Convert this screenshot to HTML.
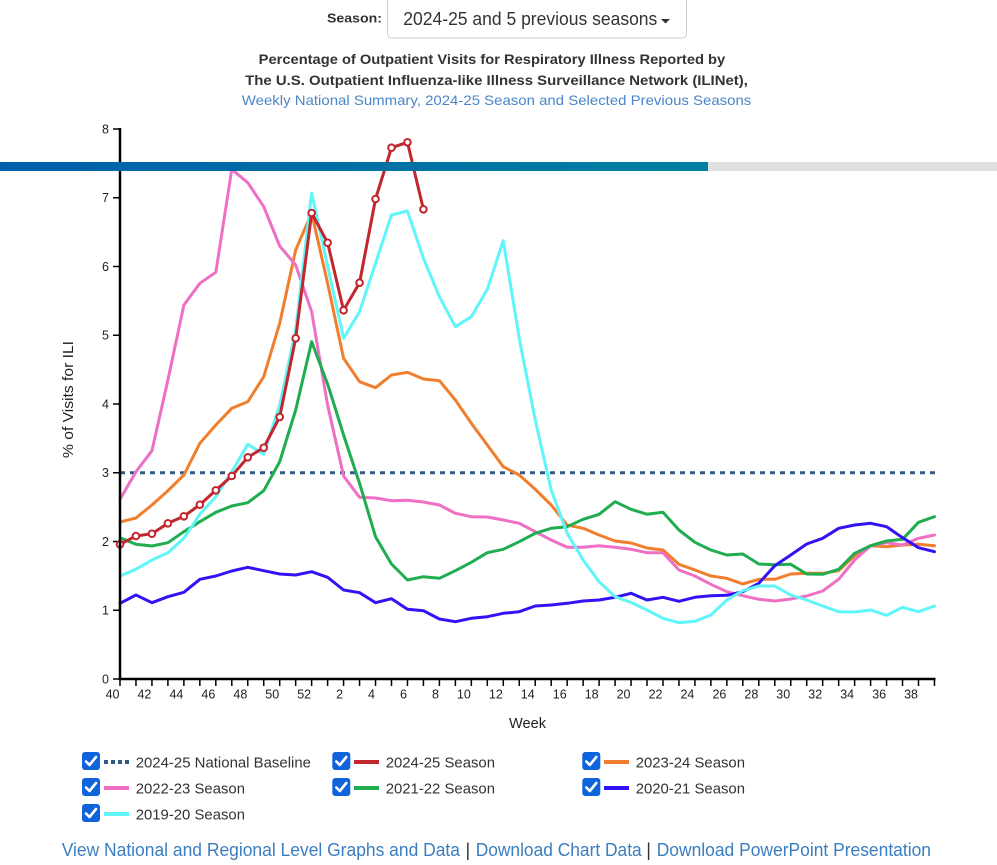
<!DOCTYPE html>
<html>
<head>
<meta charset="utf-8">
<style>
html,body{margin:0;padding:0;background:#fff;}
svg{display:block;font-family:"Liberation Sans",Arial,sans-serif;}
</style>
</head>
<body>
<svg width="997" height="865" viewBox="0 0 997 865" xmlns="http://www.w3.org/2000/svg">
<defs>
<linearGradient id="bar" x1="0" y1="0" x2="1" y2="0">
<stop offset="0" stop-color="#005fab"/>
<stop offset="1" stop-color="#0080a0"/>
</linearGradient>
</defs>

<!-- Header -->
<text x="327" y="22.5" font-size="13" font-weight="bold" fill="#333" textLength="55" lengthAdjust="spacingAndGlyphs">Season:</text>
<rect x="387.5" y="-5" width="299" height="43" rx="4" ry="4" fill="#fff" stroke="#cccccc" stroke-width="1"/>
<text x="403.3" y="25" font-size="18" fill="#333" textLength="254" lengthAdjust="spacingAndGlyphs">2024-25 and 5 previous seasons</text>
<polygon points="661,19 670,19 665.5,23.5" fill="#333"/>

<text x="258.7" y="64" font-size="14" font-weight="bold" fill="#333" textLength="466.5" lengthAdjust="spacingAndGlyphs">Percentage of Outpatient Visits for Respiratory Illness Reported by</text>
<text x="245.2" y="85" font-size="14" font-weight="bold" fill="#333" textLength="502.7" lengthAdjust="spacingAndGlyphs">The U.S. Outpatient Influenza-like Illness Surveillance Network (ILINet),</text>
<text x="241.8" y="105" font-size="14" fill="#4a86c8" textLength="509.5" lengthAdjust="spacingAndGlyphs">Weekly National Summary, 2024-25 Season and Selected Previous Seasons</text>

<!-- Y axis title -->
<text transform="translate(73,399.5) rotate(-90)" text-anchor="middle" font-size="14.5" fill="#222" textLength="117" lengthAdjust="spacingAndGlyphs">% of Visits for ILI</text>

<!-- Y ticks and labels -->
<g stroke="#000" stroke-width="1.5">
<line x1="113" y1="679" x2="120" y2="679"/>
<line x1="113" y1="610.25" x2="120" y2="610.25"/>
<line x1="113" y1="541.5" x2="120" y2="541.5"/>
<line x1="113" y1="472.75" x2="120" y2="472.75"/>
<line x1="113" y1="404" x2="120" y2="404"/>
<line x1="113" y1="335.25" x2="120" y2="335.25"/>
<line x1="113" y1="266.5" x2="120" y2="266.5"/>
<line x1="113" y1="197.75" x2="120" y2="197.75"/>
<line x1="113" y1="129" x2="120" y2="129"/>
</g>
<g font-size="12.5" fill="#222" text-anchor="end">
<text x="109" y="683.5">0</text>
<text x="109" y="614.7">1</text>
<text x="109" y="546">2</text>
<text x="109" y="477.2">3</text>
<text x="109" y="408.5">4</text>
<text x="109" y="339.7">5</text>
<text x="109" y="271">6</text>
<text x="109" y="202.2">7</text>
<text x="109" y="133.5">8</text>
</g>

<!-- X ticks -->
<g stroke="#000" stroke-width="1.5" transform="translate(120,0) scale(15.97,1)">
<path vector-effect="non-scaling-stroke" d="M0 679V686M1 679V686M2 679V686M3 679V686M4 679V686M5 679V686M6 679V686M7 679V686M8 679V686M9 679V686M10 679V686M11 679V686M12 679V686M13 679V686M14 679V686M15 679V686M16 679V686M17 679V686M18 679V686M19 679V686M20 679V686M21 679V686M22 679V686M23 679V686M24 679V686M25 679V686M26 679V686M27 679V686M28 679V686M29 679V686M30 679V686M31 679V686M32 679V686M33 679V686M34 679V686M35 679V686M36 679V686M37 679V686M38 679V686M39 679V686M40 679V686M41 679V686M42 679V686M43 679V686M44 679V686M45 679V686M46 679V686M47 679V686M48 679V686M49 679V686M50 679V686M51 679V686"/>
</g>
<g font-size="12.5" fill="#222" text-anchor="end">
<text x="119.5" y="698.5">40</text>
<text x="151.4" y="698.5">42</text>
<text x="183.4" y="698.5">44</text>
<text x="215.3" y="698.5">46</text>
<text x="247.3" y="698.5">48</text>
<text x="279.2" y="698.5">50</text>
<text x="311.1" y="698.5">52</text>
<text x="343.1" y="698.5">2</text>
<text x="375" y="698.5">4</text>
<text x="407" y="698.5">6</text>
<text x="438.9" y="698.5">8</text>
<text x="470.8" y="698.5">10</text>
<text x="502.8" y="698.5">12</text>
<text x="534.7" y="698.5">14</text>
<text x="566.7" y="698.5">16</text>
<text x="598.6" y="698.5">18</text>
<text x="630.5" y="698.5">20</text>
<text x="662.5" y="698.5">22</text>
<text x="694.4" y="698.5">24</text>
<text x="726.4" y="698.5">26</text>
<text x="758.3" y="698.5">28</text>
<text x="790.2" y="698.5">30</text>
<text x="822.2" y="698.5">32</text>
<text x="854.1" y="698.5">34</text>
<text x="886.1" y="698.5">36</text>
<text x="918" y="698.5">38</text>
</g>
<text x="509" y="728" font-size="15" fill="#222" textLength="37" lengthAdjust="spacingAndGlyphs">Week</text>

<!-- Baseline -->
<line x1="120" y1="472.75" x2="935" y2="472.75" stroke="#315a86" stroke-width="3" stroke-dasharray="5,5"/>

<!-- Series -->
<g fill="none" stroke-width="3" stroke-linejoin="round" stroke-linecap="round" transform="translate(120,0) scale(15.97,1)">
<!-- 2023-24 orange -->
<polyline vector-effect="non-scaling-stroke" stroke="#f17e2c" points="0,522 1,518 2,505 3,490.7 4,475 5,443.3 6,425 7,408.3 8,401.7 9,376.7 10,323.3 11,250 12,213 13,283.3 14,358.3 15,381.7 16,387.7 17,375 18,372.3 19,379 20,380.7 21,400 22,423.3 23,445 24,466.7 25,475 26,489.3 27,505 28,525 29,528.3 30,535 31,541 32,543 33,548 34,550 35,564.3 36,570 37,576 38,578.3 39,584 40,579.3 41,579.3 42,574 43,573.3 44,573.3 45,570.7 46,555.7 47,545.7 48,546.7 49,545 50,544.3 51,545.7"/>
<!-- 2022-23 pink -->
<polyline vector-effect="non-scaling-stroke" stroke="#ee6fc4" points="0,499.3 1,471.7 2,450.7 3,380 4,305 5,283.3 6,272.3 7,169.3 8,182.7 9,206.7 10,246 11,265 12,311.7 13,405 14,476 15,497.3 16,498 17,500.7 18,500.3 19,502 20,505 21,513.3 22,516.7 23,517 24,520 25,523.3 26,531.7 27,540 28,547.3 29,547.3 30,545.7 31,547.3 32,549.3 33,552.7 34,552.7 35,570 36,576 37,584.3 38,591.7 39,595.7 40,599.3 41,601 42,599 43,596 44,591 45,579.3 46,560 47,545.7 48,542.7 49,545 50,538.3 51,535"/>
<!-- 2021-22 green -->
<polyline vector-effect="non-scaling-stroke" stroke="#1fad4f" points="0,537.7 1,544.3 2,546 3,542.7 4,531.7 5,521.7 6,512.3 7,506 8,502.7 9,490.7 10,461.7 11,410 12,341.7 13,384 14,435 15,483.3 16,536.7 17,564 18,580 19,576.7 20,578.3 21,570.7 22,562.3 23,552.7 24,549.3 25,541.7 26,533.3 27,528.3 28,526.7 29,519.3 30,514.3 31,501.7 32,509.3 33,514.2 34,512.3 35,530 36,542.3 37,550 38,555 39,554 40,564 41,564.7 42,564.3 43,574 44,574.3 45,569.3 46,553.3 47,545.7 48,541 49,539.3 50,522.3 51,516.7"/>
<!-- 2020-21 blue -->
<polyline vector-effect="non-scaling-stroke" stroke="#3213f5" points="0,603.3 1,595 2,602.7 3,596.7 4,592.3 5,579.3 6,576 7,571 8,567.3 9,570.7 10,574 11,575 12,571.7 13,577.3 14,590 15,592.7 16,602.7 17,598.7 18,609.3 19,610.7 20,619 21,621.7 22,618.3 23,616.7 24,613.3 25,611.7 26,606 27,605 28,603.3 29,601 30,600 31,597.3 32,593.3 33,600 34,597.3 35,601.3 36,597.3 37,595.7 38,595.3 39,591.7 40,583.3 41,565.7 42,555 43,544 44,538.3 45,528.3 46,525 47,523.3 48,526.7 49,537.7 50,547.7 51,551.7"/>
<!-- 2019-20 cyan -->
<polyline vector-effect="non-scaling-stroke" stroke="#5ff5f9" points="0,576 1,569.3 2,560 3,552.7 4,538.3 5,514.3 6,496.7 7,471.7 8,444.3 9,454.3 10,405 11,330 12,193 13,266 14,338.3 15,311.7 16,263.3 17,215 18,211 19,258.3 20,296.7 21,326.7 22,316.7 23,289.3 24,240.7 25,338.3 26,420 27,490 28,533.3 29,560 30,581.7 31,596.7 32,602.5 33,610 34,618.3 35,622.7 36,621.3 37,615 38,600 39,590.7 40,586 41,586 42,595 43,600 44,606 45,611.7 46,612 47,610 48,615.3 49,607.3 50,611.7 51,606"/>
<!-- 2024-25 red -->
<polyline vector-effect="non-scaling-stroke" stroke="#c1272d" points="0,544.3 1,536 2,533.7 3,523.3 4,516.3 5,504.7 6,490.3 7,476 8,457.3 9,447.7 10,417 11,338.3 12,213 13,242.7 14,310.3 15,282.7 16,199 17,147.7 18,142.3 19,209.3"/>
</g>
<g fill="#fff" stroke="#c1272d" stroke-width="2">
<circle cx="120" cy="544.3" r="3.3"/>
<circle cx="135.97" cy="536" r="3.3"/>
<circle cx="151.94" cy="533.7" r="3.3"/>
<circle cx="167.91" cy="523.3" r="3.3"/>
<circle cx="183.88" cy="516.3" r="3.3"/>
<circle cx="199.85" cy="504.7" r="3.3"/>
<circle cx="215.82" cy="490.3" r="3.3"/>
<circle cx="231.79" cy="476" r="3.3"/>
<circle cx="247.76" cy="457.3" r="3.3"/>
<circle cx="263.73" cy="447.7" r="3.3"/>
<circle cx="279.7" cy="417" r="3.3"/>
<circle cx="295.67" cy="338.3" r="3.3"/>
<circle cx="311.64" cy="213" r="3.3"/>
<circle cx="327.61" cy="242.7" r="3.3"/>
<circle cx="343.58" cy="310.3" r="3.3"/>
<circle cx="359.55" cy="282.7" r="3.3"/>
<circle cx="375.52" cy="199" r="3.3"/>
<circle cx="391.49" cy="147.7" r="3.3"/>
<circle cx="407.46" cy="142.3" r="3.3"/>
<circle cx="423.43" cy="209.3" r="3.3"/>
</g>

<!-- Axes -->
<line x1="120" y1="128" x2="120" y2="680" stroke="#000" stroke-width="2.5"/>
<line x1="119" y1="679" x2="935.5" y2="679" stroke="#000" stroke-width="2.5"/>

<!-- Progress bar overlay -->
<rect x="0" y="162" width="708" height="9" fill="url(#bar)"/>
<rect x="708" y="162" width="289" height="9" fill="#dfe0e2"/>

<!-- Legend -->
<g>
<rect x="82" y="752" width="18" height="18" rx="3" fill="#0f63db"/>
<rect x="82" y="778" width="18" height="18" rx="3" fill="#0f63db"/>
<rect x="82" y="804" width="18" height="18" rx="3" fill="#0f63db"/>
<rect x="332.3" y="752" width="18" height="18" rx="3" fill="#0f63db"/>
<rect x="332.3" y="778" width="18" height="18" rx="3" fill="#0f63db"/>
<rect x="582.3" y="752" width="18" height="18" rx="3" fill="#0f63db"/>
<rect x="582.3" y="778" width="18" height="18" rx="3" fill="#0f63db"/>
</g>
<g fill="none" stroke="#fff" stroke-width="2.6" stroke-linecap="round" stroke-linejoin="round">
<polyline points="86,761.5 89.5,765 96,757"/>
<polyline points="86,787.5 89.5,791 96,783"/>
<polyline points="86,813.5 89.5,817 96,809"/>
<polyline points="336.3,761.5 339.8,765 346.3,757"/>
<polyline points="336.3,787.5 339.8,791 346.3,783"/>
<polyline points="586.3,761.5 589.8,765 596.3,757"/>
<polyline points="586.3,787.5 589.8,791 596.3,783"/>
</g>
<g stroke-width="4">
<line x1="104" y1="762" x2="129" y2="762" stroke="#315a86" stroke-dasharray="4,3"/>
<line x1="104" y1="788" x2="129" y2="788" stroke="#ee6fc4"/>
<line x1="104" y1="814" x2="129" y2="814" stroke="#5ff5f9"/>
<line x1="354" y1="762" x2="379" y2="762" stroke="#c1272d"/>
<line x1="354" y1="788" x2="379" y2="788" stroke="#1fad4f"/>
<line x1="604" y1="762" x2="629" y2="762" stroke="#f17e2c"/>
<line x1="604" y1="788" x2="629" y2="788" stroke="#3213f5"/>
</g>
<g font-size="15" fill="#333">
<text x="135.7" y="767.3" textLength="175.3" lengthAdjust="spacingAndGlyphs">2024-25 National Baseline</text>
<text x="135.7" y="793.3" textLength="109.3" lengthAdjust="spacingAndGlyphs">2022-23 Season</text>
<text x="135.7" y="819.3" textLength="109.3" lengthAdjust="spacingAndGlyphs">2019-20 Season</text>
<text x="385.7" y="767.3" textLength="109.3" lengthAdjust="spacingAndGlyphs">2024-25 Season</text>
<text x="385.7" y="793.3" textLength="109.3" lengthAdjust="spacingAndGlyphs">2021-22 Season</text>
<text x="635.7" y="767.3" textLength="109.3" lengthAdjust="spacingAndGlyphs">2023-24 Season</text>
<text x="635.7" y="793.3" textLength="109.3" lengthAdjust="spacingAndGlyphs">2020-21 Season</text>
</g>

<!-- Links -->
<g font-size="18">
<text x="61.7" y="856" fill="#3a7ebf" textLength="398.3" lengthAdjust="spacingAndGlyphs">View National and Regional Level Graphs and Data</text>
<text x="465.5" y="856" fill="#333">|</text>
<text x="475.7" y="856" fill="#3a7ebf" textLength="166" lengthAdjust="spacingAndGlyphs">Download Chart Data</text>
<text x="646.3" y="856" fill="#333">|</text>
<text x="656.7" y="856" fill="#3a7ebf" textLength="274.3" lengthAdjust="spacingAndGlyphs">Download PowerPoint Presentation</text>
</g>
</svg>
</body>
</html>
